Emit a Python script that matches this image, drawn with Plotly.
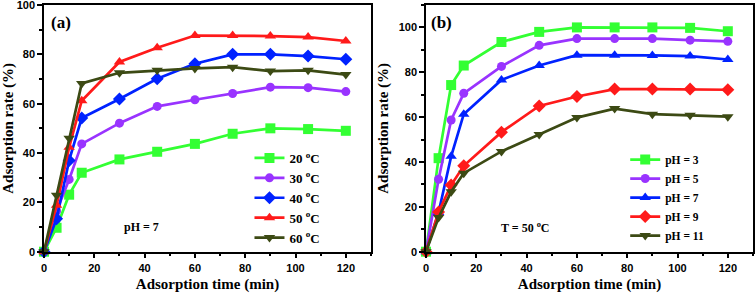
import plotly.graph_objects as go

time_min = [0, 5, 10, 15, 30, 45, 60, 75, 90, 105, 120]

temp_labels = ["20 <sup>o</sup>C", "30 <sup>o</sup>C", "40 <sup>o</sup>C", "50 <sup>o</sup>C", "60 <sup>o</sup>C"]
temp_20 = [0, 9.7, 23.1, 32.0, 37.4, 40.5, 43.7, 47.8, 50.0, 49.7, 49.0]
temp_30 = [0, 16.5, 29.3, 43.7, 52.1, 58.9, 61.6, 64.1, 66.7, 66.5, 64.9]
temp_40 = [0, 13.3, 37.0, 54.2, 61.9, 70.1, 76.2, 80.0, 80.0, 79.3, 78.0]
temp_50 = [0, 18.8, 42.3, 61.2, 76.9, 82.7, 87.6, 87.6, 87.4, 87.0, 85.4]
temp_60 = [0, 22.9, 46.0, 68.2, 72.5, 73.5, 74.3, 74.8, 73.2, 73.5, 71.8]

ph_labels = ["pH = 3", "pH = 5", "pH = 7", "pH = 9", "pH = 11"]
ph_3 = [0, 41.7, 74.3, 83.0, 93.5, 98.0, 100.0, 100.0, 100.0, 99.8, 98.3]
ph_5 = [0, 32.3, 58.7, 70.6, 82.6, 92.0, 95.0, 95.0, 95.0, 94.3, 93.8]
ph_7 = [0, 17.5, 42.5, 61.3, 76.6, 83.0, 87.6, 87.6, 87.5, 87.2, 85.7]
ph_9 = [0, 17.7, 29.7, 38.3, 53.3, 65.0, 69.2, 72.5, 72.5, 72.5, 72.2]
ph_11 = [0, 15.2, 26.7, 35.0, 44.7, 52.3, 59.8, 63.8, 61.3, 60.8, 60.2]

colors = ["#33ff33", "#9933ff", "#0022ff", "#ff1a1a", "#3c4a14"]
symbols = ["square", "circle", "diamond", "triangle-up", "triangle-down"]
ph_symbols = ["square", "circle", "triangle-up", "diamond", "triangle-down"]

SERIF = "Liberation Serif, Times New Roman, serif"

fig = go.Figure()

for lab, ys, c, s in zip(temp_labels, [temp_20, temp_30, temp_40, temp_50, temp_60], colors, symbols):
    fig.add_trace(go.Scatter(
        x=time_min, y=ys, name="<b>" + lab + "</b>", mode="lines+markers",
        line=dict(color=c, width=2.7),
        marker=dict(symbol=s, size=10 if s != "circle" else 9, color=c),
        xaxis="x", yaxis="y", legend="legend", cliponaxis=False))

for lab, ys, c, s in zip(ph_labels, [ph_3, ph_5, ph_7, ph_9, ph_11], colors, ph_symbols):
    fig.add_trace(go.Scatter(
        x=time_min, y=ys, name="<b>" + lab + "</b>", mode="lines+markers",
        line=dict(color=c, width=2.7),
        marker=dict(symbol=s, size=10 if s != "circle" else 9, color=c),
        xaxis="x2", yaxis="y2", legend="legend2", cliponaxis=False))

def tickfont():
    return dict(family="Liberation Sans, Arial, sans-serif", size=11, color="black", weight="bold")

def titlefont():
    return dict(family=SERIF, size=15, color="black")

def xax(domain, anchor):
    return dict(domain=domain, anchor=anchor, range=[0, 130], tickvals=[0, 20, 40, 60, 80, 100, 120],
                automargin=False, ticklabeloverflow="allow",
                showline=True, linecolor="black", linewidth=1.5, mirror=True,
                ticks="outside", ticklen=5, tickwidth=1.5, tickcolor="black",
                minor=dict(dtick=10, ticks="outside", ticklen=3, tickwidth=1.5, tickcolor="black"),
                showgrid=False, zeroline=False, tickfont=tickfont(),
                title=dict(text="<b>Adsorption time (min)</b>", font=titlefont(), standoff=6))

def yax(domain, anchor, rng):
    return dict(domain=domain, anchor=anchor, range=rng, tickvals=[0, 20, 40, 60, 80, 100],
                automargin=False, ticklabeloverflow="allow",
                showline=True, linecolor="black", linewidth=1.5, mirror=True,
                ticks="outside", ticklen=5, tickwidth=1.5, tickcolor="black",
                minor=dict(dtick=10, ticks="outside", ticklen=3, tickwidth=1.5, tickcolor="black"),
                showgrid=False, zeroline=False, tickfont=tickfont(),
                title=dict(text="<b>Adsorption rate (%)</b>", font=titlefont(), standoff=6))

fig.update_layout(
    width=756, height=293,
    margin=dict(l=0, r=0, t=0, b=0, autoexpand=False),
    paper_bgcolor="white", plot_bgcolor="white",
    xaxis=xax([0.0582, 0.4907], "y"),
    yaxis=yax([0.141, 0.983], "x", [0, 100]),
    xaxis2=xax([0.5635, 0.996], "y2"),
    yaxis2=yax([0.141, 0.983], "x2", [0, 110]),
    legend=dict(x=0.33, y=0.512, xanchor="left", yanchor="top", bgcolor="rgba(0,0,0,0)",
                font=dict(family=SERIF, size=13, color="black"), itemwidth=30),
    legend2=dict(x=0.827, y=0.505, xanchor="left", yanchor="top", bgcolor="rgba(0,0,0,0)",
                 font=dict(family=SERIF, size=11.5, color="black"), itemwidth=30),
    showlegend=True,
    annotations=[
        dict(text="<b>(a)</b>", x=0.065, y=0.962, xref="paper", yref="paper", showarrow=False,
             xanchor="left", yanchor="top", font=dict(family=SERIF, size=17, color="black")),
        dict(text="<b>(b)</b>", x=0.568, y=0.962, xref="paper", yref="paper", showarrow=False,
             xanchor="left", yanchor="top", font=dict(family=SERIF, size=17, color="black")),
        dict(text="<b>pH = 7</b>", x=0.162, y=0.225, xref="paper", yref="paper", showarrow=False,
             xanchor="left", yanchor="middle", font=dict(family=SERIF, size=12, color="black")),
        dict(text="<b>T = 50 <sup>o</sup>C</b>", x=0.66, y=0.225, xref="paper", yref="paper", showarrow=False,
             xanchor="left", yanchor="middle", font=dict(family=SERIF, size=12, color="black")),
    ],
)

fig.write_html("out.html", config={"displayModeBar": False},
               post_script="document.body.style.margin='0px';document.body.style.padding='0px';")
